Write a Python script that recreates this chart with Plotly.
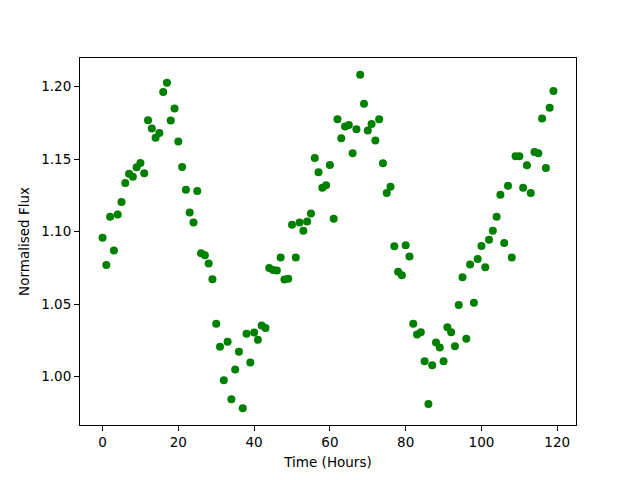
import plotly.graph_objects as go

hours = list(range(120))
flux = [
    1.0958, 1.0769, 1.1102, 1.0869, 1.1118, 1.1205, 1.1335, 1.1400, 1.1378, 1.1444,
    1.1474, 1.1403, 1.1768, 1.1711, 1.1647, 1.1681, 1.1964, 1.2028, 1.1766, 1.1850,
    1.1622, 1.1446, 1.1289, 1.1131, 1.1063, 1.1280, 1.0851, 1.0837, 1.0780, 1.0671,
    1.0363, 1.0205, 0.9973, 1.0240, 0.9842, 1.0048, 1.0170, 0.9780, 1.0294, 1.0096,
    1.0303, 1.0253, 1.0351, 1.0335, 1.0748, 1.0734, 1.0732, 1.0821, 1.0670, 1.0675,
    1.1047, 1.0821, 1.1063, 1.1006, 1.1070, 1.1125, 1.1508, 1.1410, 1.1303, 1.1319,
    1.1460, 1.1088, 1.1775, 1.1645, 1.1725, 1.1736, 1.1540, 1.1706, 1.2083, 1.1882,
    1.1697, 1.1743, 1.1629, 1.1775, 1.1472, 1.1266, 1.1310, 1.0899, 1.0723, 1.0698,
    1.0905, 1.0828, 1.0363, 1.0289, 1.0305, 1.0105, 0.9810, 1.0078, 1.0235, 1.0199,
    1.0105, 1.0340, 1.0305, 1.0208, 1.0493, 1.0684, 1.0260, 1.0773, 1.0509, 1.0810,
    1.0901, 1.0753, 1.0944, 1.1006, 1.1102, 1.1255, 1.0922, 1.1316, 1.0821, 1.1520,
    1.1520, 1.1303, 1.1458, 1.1266, 1.1549, 1.1540, 1.1780, 1.1439, 1.1855, 1.1971,
]
x_ticks = [0, 20, 40, 60, 80, 100, 120]
y_ticks = [1.00, 1.05, 1.10, 1.15, 1.20]

fig = go.Figure(go.Scatter(
    x=hours, y=flux, mode="markers",
    marker=dict(color="green", size=8, line=dict(width=0)),
))

xmin, xmax = min(hours), max(hours)
ymin, ymax = min(flux), max(flux)
xm = (xmax - xmin) * 0.05
ym = (ymax - ymin) * 0.05

FONT = dict(family="DejaVu Sans", size=13.5, color="black")

axis_common = dict(
    showline=True, linecolor="black", linewidth=1, mirror=True,
    ticks="outside", ticklen=5, tickwidth=1, tickcolor="black",
    showgrid=False, zeroline=False,
    tickfont=FONT,
)

# page body has an 8px default margin, so the figure is drawn 8px in
fig.update_layout(
    width=632, height=472,
    margin=dict(l=72, r=64, t=50, b=53),
    paper_bgcolor="white", plot_bgcolor="white",
    showlegend=False,
    font=FONT,
    xaxis=dict(range=[xmin - xm, xmax + xm], tickvals=x_ticks,
               title=dict(text="Time (Hours)", font=FONT, standoff=8), **axis_common),
    yaxis=dict(range=[ymin - ym, ymax + ym], tickvals=y_ticks, tickformat=".2f",
               title=dict(text="Normalised Flux", font=FONT, standoff=8), **axis_common),
)

fig.write_html("out.html")
